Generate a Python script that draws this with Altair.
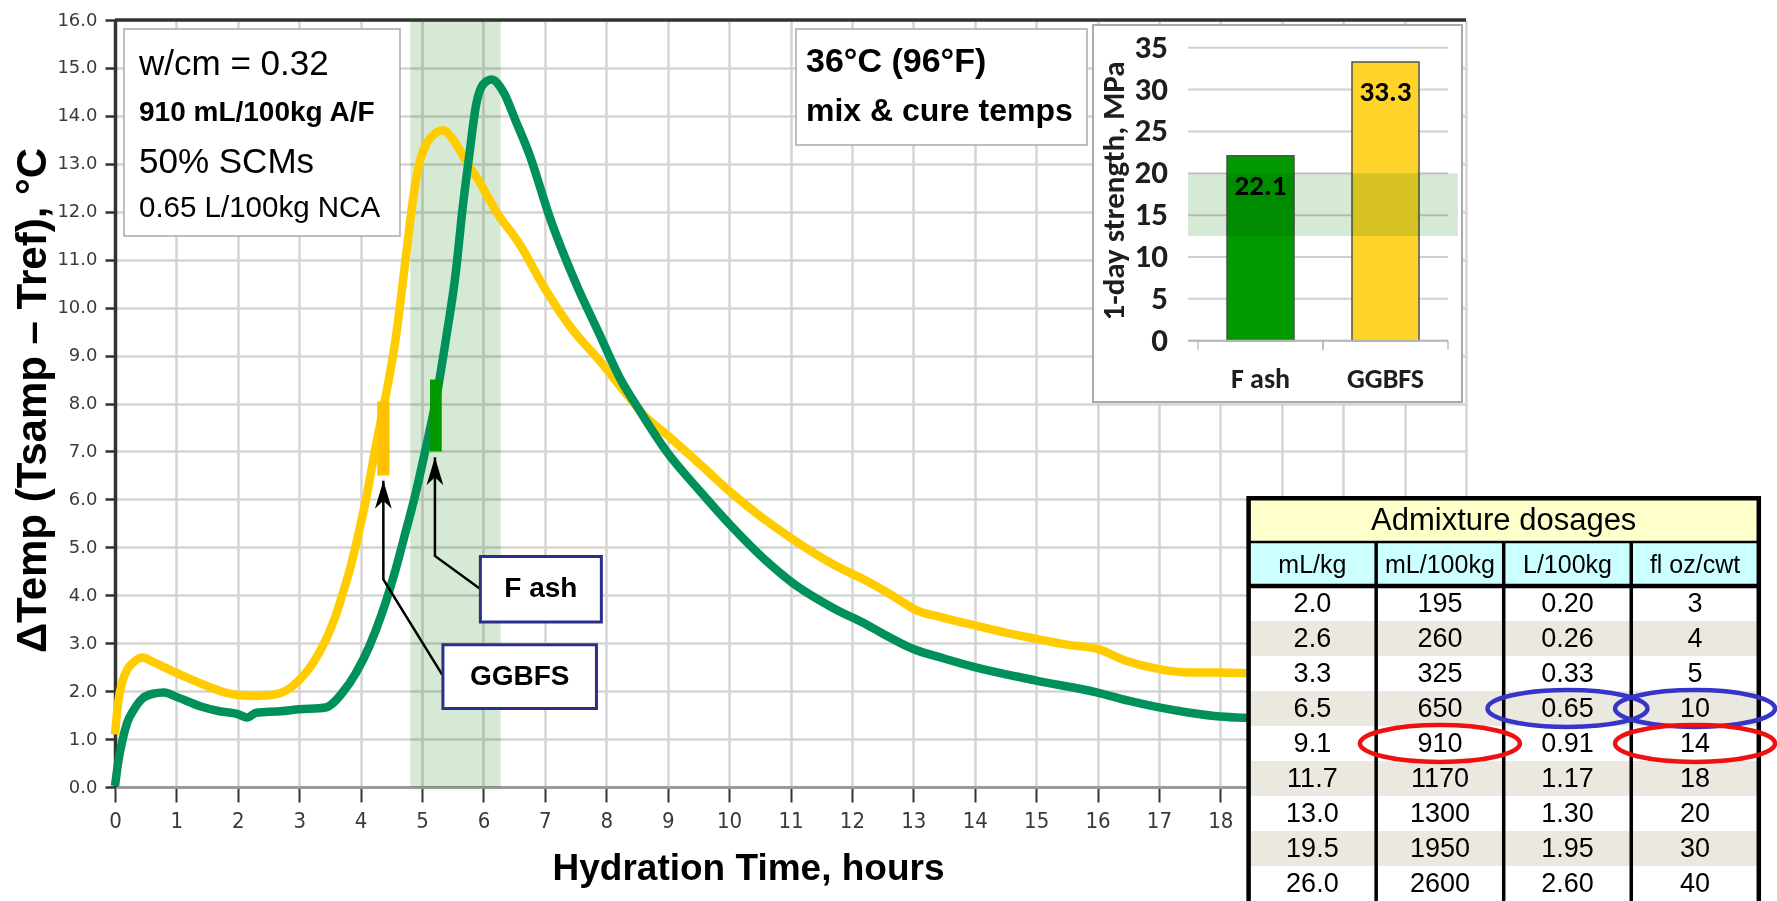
import altair as alt
import pandas as pd

# ---------------------------------------------------------------------------
# Hydration curves: temperature rise above reference vs. hydration time
# ---------------------------------------------------------------------------
hours_ggbfs = [0.0, 0.05, 0.12, 0.2, 0.3, 0.45, 0.6, 0.8, 1.0, 1.25, 1.55, 1.8,
               2.0, 2.3, 2.6, 2.8, 3.0, 3.15, 3.32, 3.45, 3.59, 3.7, 3.81, 3.97,
               4.11, 4.24, 4.38, 4.57, 4.74, 4.84, 4.95, 5.09, 5.2, 5.34, 5.53,
               5.72, 5.93, 6.21, 6.57, 7.01, 7.45, 7.88, 8.32, 8.59, 9.03, 9.52,
               10.06, 10.61, 11.0, 11.7, 12.25, 12.8, 13.0, 13.5, 14.0, 14.5,
               15.0, 15.5, 16.0, 16.45, 17.0, 17.5, 18.0, 18.5, 19.0]
temp_ggbfs = [1.1, 1.75, 2.2, 2.45, 2.6, 2.7, 2.62, 2.5, 2.38, 2.24, 2.08, 1.97,
              1.92, 1.9, 1.93, 2.02, 2.23, 2.45, 2.79, 3.12, 3.56, 4.0, 4.47, 5.31,
              6.15, 7.06, 7.97, 9.35, 11.09, 12.14, 12.98, 13.46, 13.62, 13.7, 13.46,
              13.05, 12.63, 12.0, 11.36, 10.38, 9.54, 8.91, 8.21, 7.79, 7.3, 6.74,
              6.11, 5.55, 5.2, 4.64, 4.29, 3.88, 3.72, 3.53, 3.37, 3.22,
              3.09, 2.97, 2.88, 2.64, 2.46, 2.39, 2.39, 2.37, 2.35]

hours_fash = [0.0, 0.05, 0.12, 0.2, 0.3, 0.45, 0.6, 0.8, 1.0, 1.4, 1.7, 2.0,
              2.15, 2.3, 2.7, 3.0, 3.43, 3.55, 3.7, 3.92, 4.14, 4.35, 4.57, 4.73,
              4.9, 5.06, 5.2, 5.39, 5.55, 5.66, 5.77, 5.88, 5.99, 6.13, 6.32, 6.53,
              6.75, 7.07, 7.5, 7.88, 8.21, 8.54, 8.97, 9.52, 10.06, 10.61, 11.0,
              11.7, 12.25, 12.46, 13.0, 13.5, 14.0, 15.0, 16.0, 16.5, 17.0, 17.5,
              18.0, 18.5, 19.0]
temp_fash = [0.02, 0.5, 0.97, 1.35, 1.6, 1.85, 1.94, 1.97, 1.88, 1.68, 1.58, 1.52,
             1.45, 1.55, 1.58, 1.62, 1.66, 1.75, 1.96, 2.37, 2.93, 3.63, 4.54, 5.31,
             6.15, 7.06, 7.9, 9.35, 10.74, 12.07, 13.19, 14.23, 14.65, 14.76, 14.51, 13.88,
             13.19, 11.92, 10.52, 9.47, 8.56, 7.86, 7.02, 6.18, 5.41, 4.71, 4.29,
             3.73, 3.38, 3.23, 2.88, 2.68, 2.5, 2.22, 1.97, 1.8, 1.66, 1.55,
             1.47, 1.44, 1.42]

# set markers on the rising limb of each curve
marker_mix = ["GGBFS", "F ash"]
marker_t0 = [4.27, 5.13]
marker_t1 = [4.47, 5.32]
marker_lo = [6.5, 7.0]
marker_hi = [8.04, 8.5]

# shaded window on the time axis (hours)
window_hours = [4.81, 6.28]

# call-out boxes and their leader arrows (time, ΔT)
callout_label = ["F ash", "GGBFS"]
callout_t0 = [5.95, 5.34]
callout_t1 = [7.92, 7.84]
callout_lo = [3.44, 1.64]
callout_hi = [4.81, 2.97]
arrow_fash_t = [5.21, 5.21, 5.96]
arrow_fash_v = [6.88, 4.82, 4.12]
arrow_ggbfs_t = [4.37, 4.37, 5.33]
arrow_ggbfs_v = [6.39, 4.33, 2.34]

# inset: 1-day compressive strength
strength_mix = ["F ash", "GGBFS"]
strength_mpa = [22.1, 33.3]
strength_target = [12.5, 20.0]
strength_ticks = [0, 5, 10, 15, 20, 25, 30, 35]

# admixture dosage table
dose_columns = ["mL/kg", "mL/100kg", "L/100kg", "fl oz/cwt"]
dose_ml_kg = ["2.0", "2.6", "3.3", "6.5", "9.1", "11.7", "13.0", "19.5", "26.0"]
dose_ml_100kg = ["195", "260", "325", "650", "910", "1170", "1300", "1950", "2600"]
dose_l_100kg = ["0.20", "0.26", "0.33", "0.65", "0.91", "1.17", "1.30", "1.95", "2.60"]
dose_floz_cwt = ["3", "4", "5", "10", "14", "18", "20", "30", "40"]
# circled cells: (column, row index, colour)
circled = [("L/100kg", 3, "#3535c8"), ("fl oz/cwt", 3, "#3535c8"),
           ("mL/100kg", 4, "#ee1111"), ("fl oz/cwt", 4, "#ee1111")]

# ---------------------------------------------------------------------------
SANS = "Liberation Sans, Arial, sans-serif"
CALI = "Carlito, Lato, sans-serif"

W, H = 1351, 767
XS = alt.Scale(domain=[0, 22], nice=False, zero=False)
YS = alt.Scale(domain=[0, 16], nice=False, zero=False)
one = pd.DataFrame({"k": [0]})


def tx(field, axis=None):
    return alt.X(field, type="quantitative", scale=XS, axis=axis)


def ty(field, axis=None):
    return alt.Y(field, type="quantitative", scale=YS, axis=axis)


x_axis = alt.Axis(
    values=list(range(23)), labelExpr="datum.value <= 18 ? datum.label : ''",
    title="Hydration Time, hours", titleFont=SANS, titleFontSize=37,
    titleFontWeight="bold", titleColor="black", titleX=633, titleY=81,
    titleBaseline="middle", titleAlign="center",
    labelFont="DejaVu Sans Condensed", labelFontSize=22, labelColor="#3a3a3a",
    labelPadding=8, labelFlush=False, labelOverlap=False,
    tickSize=15, tickWidth=2, tickColor="#333333",
    domainColor="#9a9a9a", domainWidth=3,
    grid=True, gridColor="#d4d4d4", gridWidth=2.5)

y_axis = alt.Axis(
    values=list(range(17)), format=".1f",
    title="ΔTemp (Tsamp – Tref), °C", titleFont=SANS, titleFontSize=42,
    titleFontWeight="bold", titleColor="black", titleAngle=270,
    titleX=-83, titleY=380, titleAlign="center", titleBaseline="middle",
    labelFont="DejaVu Sans", labelFontSize=18, labelColor="#3a3a3a",
    labelPadding=8, labelFlush=False, labelOverlap=False,
    tickSize=10, tickWidth=2.5, tickColor="#333333",
    domainColor="#333333", domainWidth=3.5,
    grid=True, gridColor="#d4d4d4", gridWidth=2.5)

layers = []

# shaded window
layers.append(
    alt.Chart(pd.DataFrame({"t0": [window_hours[0]], "t1": [window_hours[1]]}))
    .mark_rect(color="#d6e9d5", blend="multiply")
    .encode(x=tx("t0"), x2="t1", y=alt.value(0), y2=alt.value(H))
)

# plot frame top edge
layers.append(
    alt.Chart(one).mark_rule(color="#333333", strokeWidth=3.5)
    .encode(x=alt.value(0), x2=alt.value(W), y=alt.value(0))
)

# curves
ggbfs_df = pd.DataFrame({"t": hours_ggbfs, "dT": temp_ggbfs})
fash_df = pd.DataFrame({"t": hours_fash, "dT": temp_fash})
layers.append(
    alt.Chart(ggbfs_df).mark_line(color="#ffcc00", strokeWidth=8.5, interpolate="monotone")
    .encode(x=tx("t", x_axis), y=ty("dT", y_axis))
)
layers.append(
    alt.Chart(fash_df).mark_line(color="#00915a", strokeWidth=8.5, interpolate="monotone")
    .encode(x=tx("t"), y=ty("dT"))
)

# markers
marker_df = pd.DataFrame({"mix": marker_mix, "t0": marker_t0, "t1": marker_t1,
                          "lo": marker_lo, "hi": marker_hi})
layers.append(
    alt.Chart(marker_df).mark_rect()
    .encode(x=tx("t0"), x2="t1", y=ty("lo"), y2="hi",
            color=alt.Color("mix:N", legend=None,
                            scale=alt.Scale(domain=["GGBFS", "F ash"],
                                            range=["#ffc000", "#009900"])))
)

# leader arrows
arrow_df = pd.DataFrame({
    "arrow": ["F ash"] * 3 + ["GGBFS"] * 3,
    "i": [0, 1, 2, 0, 1, 2],
    "t": arrow_fash_t + arrow_ggbfs_t,
    "dT": arrow_fash_v + arrow_ggbfs_v,
})
layers.append(
    alt.Chart(arrow_df).mark_line(color="black", strokeWidth=2.5)
    .encode(x=tx("t"), y=ty("dT"), detail="arrow:N", order="i:Q")
)
tips = arrow_df[arrow_df["i"] == 0]
layers.append(
    alt.Chart(tips).mark_point(shape="M -0.3 1 L 0 0 L 0.3 1 L 0 0.72 Z", size=3136,
                               filled=True, color="black", opacity=1)
    .encode(x=tx("t"), y=ty("dT"))
)

# call-out boxes
callout_df = pd.DataFrame({"label": callout_label, "t0": callout_t0, "t1": callout_t1,
                           "lo": callout_lo, "hi": callout_hi})
callout_df["tm"] = (callout_df["t0"] + callout_df["t1"]) / 2
callout_df["vm"] = (callout_df["lo"] + callout_df["hi"]) / 2
layers.append(
    alt.Chart(callout_df).mark_rect(fill="white", stroke="#2b2e8a", strokeWidth=3)
    .encode(x=tx("t0"), x2="t1", y=ty("lo"), y2="hi")
)
layers.append(
    alt.Chart(callout_df).mark_text(font=SANS, fontSize=28, fontWeight="bold", color="black")
    .encode(x=tx("tm"), y=ty("vm"), text="label:N")
)

# mix description box
layers.append(
    alt.Chart(one).mark_rect(fill="white", stroke="#a9a9a9", strokeWidth=1.5)
    .encode(x=alt.value(9), x2=alt.value(285), y=alt.value(9), y2=alt.value(216))
)
mix_lines = [("w/cm = 0.32", 44, 35, "normal"),
             ("910 mL/100kg A/F", 93, 28, "bold"),
             ("50% SCMs", 142, 35, "normal"),
             ("0.65 L/100kg NCA", 188, 29.5, "normal")]
for txt, yy, fs, fw in mix_lines:
    layers.append(
        alt.Chart(pd.DataFrame({"s": [txt]}))
        .mark_text(font=SANS, fontSize=fs, fontWeight=fw, align="left",
                   baseline="middle", color="black")
        .encode(x=alt.value(24), y=alt.value(yy), text="s:N")
    )

# temperature box
layers.append(
    alt.Chart(one).mark_rect(fill="white", stroke="#a9a9a9", strokeWidth=1.5)
    .encode(x=alt.value(681), x2=alt.value(972), y=alt.value(9), y2=alt.value(125))
)
for txt, yy, fs in [("36°C (96°F)", 42, 34), ("mix & cure temps", 91, 32)]:
    layers.append(
        alt.Chart(pd.DataFrame({"s": [txt]}))
        .mark_text(font=SANS, fontSize=fs, fontWeight="bold", align="left",
                   baseline="middle", color="black")
        .encode(x=alt.value(691), y=alt.value(yy), text="s:N")
    )

# ---------------------------------------------------------------------------
# inset bar chart
# ---------------------------------------------------------------------------
IY = alt.Scale(domain=[0, 35], range=[320.7, 27.7], nice=False, zero=True)
IX = alt.Scale(domain=strength_mix, range=[1083, 1333], paddingInner=0, paddingOuter=0)

layers.append(
    alt.Chart(one).mark_rect(fill="white", stroke="#a9a9a9", strokeWidth=2)
    .encode(x=alt.value(978), x2=alt.value(1347), y=alt.value(5), y2=alt.value(382))
)
tick_df = pd.DataFrame({"v": strength_ticks})
layers.append(
    alt.Chart(tick_df).mark_rule(color="#d0d0d0", strokeWidth=2)
    .encode(y=alt.Y("v:Q", scale=IY, axis=None), x=alt.value(1073), x2=alt.value(1333))
)
layers.append(
    alt.Chart(tick_df).mark_text(font=CALI, fontSize=33, fontWeight="bold", align="right",
                                 baseline="middle", color="#1e1e1e")
    .encode(y=alt.Y("v:Q", scale=IY, axis=None), x=alt.value(1053), text="v:Q")
)
strength_df = pd.DataFrame({"mix": strength_mix, "mpa": strength_mpa})
layers.append(
    alt.Chart(strength_df).mark_bar(width=67, stroke="#505050", strokeWidth=1.5)
    .encode(x=alt.X("mix:N", scale=IX, axis=None),
            y=alt.Y("mpa:Q", scale=IY, axis=None),
            color=alt.Color("mix:N", legend=None,
                            scale=alt.Scale(domain=strength_mix, range=["#009900", "#ffd42a"])))
)
layers.append(
    alt.Chart(pd.DataFrame({"lo": [strength_target[0]], "hi": [strength_target[1]]}))
    .mark_rect(color="#d6e9d5", blend="multiply")
    .encode(y=alt.Y("lo:Q", scale=IY, axis=None), y2="hi",
            x=alt.value(1073), x2=alt.value(1343))
)
layers.append(
    alt.Chart(strength_df).mark_text(font=CALI, fontSize=29, fontWeight="bold",
                                     baseline="middle", dy=30, color="black")
    .encode(x=alt.X("mix:N", scale=IX, axis=None),
            y=alt.Y("mpa:Q", scale=IY, axis=None), text=alt.Text("mpa:Q", format=".1f"))
)
# category axis line, ticks and labels
layers.append(
    alt.Chart(pd.DataFrame({"v": [0]})).mark_rule(color="#b8b8b8", strokeWidth=2)
    .encode(y=alt.Y("v:Q", scale=IY, axis=None), x=alt.value(1073), x2=alt.value(1333))
)
layers.append(
    alt.Chart(pd.DataFrame({"mix": strength_mix})).mark_tick(
        orient="vertical", size=9, thickness=2, color="#b8b8b8", yOffset=4.5)
    .encode(x=alt.X("mix:N", scale=IX, axis=None, bandPosition=0), y=alt.value(320.7))
)
layers.append(
    alt.Chart(pd.DataFrame({"mix": strength_mix})).mark_tick(
        orient="vertical", size=9, thickness=2, color="#b8b8b8", yOffset=4.5)
    .encode(x=alt.X("mix:N", scale=IX, axis=None, bandPosition=1), y=alt.value(320.7))
)
layers.append(
    alt.Chart(pd.DataFrame({"mix": strength_mix})).mark_text(
        font=CALI, fontSize=28, fontWeight="bold", baseline="middle", color="#1e1e1e")
    .encode(x=alt.X("mix:N", scale=IX, axis=None), y=alt.value(360), text="mix:N")
)
layers.append(
    alt.Chart(pd.DataFrame({"s": ["1-day strength, MPa"]})).mark_text(
        font=CALI, fontSize=31, fontWeight="bold", angle=270, baseline="middle",
        color="#1e1e1e")
    .encode(x=alt.value(1000), y=alt.value(171), text="s:N")
)

# ---------------------------------------------------------------------------
# dosage table
# ---------------------------------------------------------------------------
TL, TR = 1133.6, 1643.8
T_TOP, T_HEAD, T_BODY, T_BOT = 478.3, 522, 566, 881
rows = list(range(len(dose_ml_kg)))
TX = alt.Scale(domain=dose_columns, range=[TL, TR], paddingInner=0, paddingOuter=0)
TY = alt.Scale(domain=rows, range=[T_BODY, T_BOT], paddingInner=0, paddingOuter=0)

cells = []
for col, vals in zip(dose_columns, [dose_ml_kg, dose_ml_100kg, dose_l_100kg, dose_floz_cwt]):
    for r, v in zip(rows, vals):
        cells.append({"col": col, "row": r, "txt": v,
                      "fill": "#ebe8df" if r % 2 == 1 else "#ffffff"})
cell_df = pd.DataFrame(cells)
col_df = pd.DataFrame({"col": dose_columns})

layers.append(
    alt.Chart(one).mark_rect(fill="#ffffcc")
    .encode(x=alt.value(TL), x2=alt.value(TR), y=alt.value(T_TOP), y2=alt.value(T_HEAD))
)
layers.append(
    alt.Chart(col_df).mark_rect(fill="#ccffff")
    .encode(x=alt.X("col:N", scale=TX, axis=None), y=alt.value(T_HEAD), y2=alt.value(T_BODY))
)
layers.append(
    alt.Chart(cell_df).mark_rect()
    .encode(x=alt.X("col:N", scale=TX, axis=None), y=alt.Y("row:O", scale=TY, axis=None),
            color=alt.Color("fill:N", scale=None))
)
layers.append(
    alt.Chart(pd.DataFrame({"s": ["Admixture dosages"]})).mark_text(
        font=SANS, fontSize=31, baseline="middle", color="black")
    .encode(x=alt.value((TL + TR) / 2), y=alt.value(501), text="s:N")
)
layers.append(
    alt.Chart(col_df).mark_text(font=SANS, fontSize=25, baseline="middle", color="black")
    .encode(x=alt.X("col:N", scale=TX, axis=None), y=alt.value(545), text="col:N")
)
layers.append(
    alt.Chart(cell_df).mark_text(font=SANS, fontSize=27, baseline="middle", color="black")
    .encode(x=alt.X("col:N", scale=TX, axis=None), y=alt.Y("row:O", scale=TY, axis=None),
            text="txt:N")
)
# grid lines of the table
layers.append(
    alt.Chart(pd.DataFrame({"col": dose_columns[1:]})).mark_rule(color="black", strokeWidth=3.5)
    .encode(x=alt.X("col:N", scale=TX, axis=None, bandPosition=0),
            y=alt.value(T_HEAD), y2=alt.value(T_BOT + 20))
)
layers.append(
    alt.Chart(one).mark_rule(color="black", strokeWidth=4.5)
    .encode(x=alt.value(TL), x2=alt.value(TR), y=alt.value(T_BODY))
)
layers.append(
    alt.Chart(one).mark_rule(color="black", strokeWidth=2.5)
    .encode(x=alt.value(TL), x2=alt.value(TR), y=alt.value(T_HEAD))
)
layers.append(
    alt.Chart(one).mark_rect(fill="transparent", stroke="black", strokeWidth=4.5)
    .encode(x=alt.value(TL), x2=alt.value(TR), y=alt.value(T_TOP), y2=alt.value(T_BOT + 20))
)
# circled dosages
circ_df = pd.DataFrame(circled, columns=["col", "row", "ring"])
layers.append(
    alt.Chart(circ_df).mark_point(
        shape="M -1 0 A 1 0.23 0 1 1 1 0 A 1 0.23 0 1 1 -1 0 Z",
        size=25600, filled=False, strokeWidth=4.5, opacity=1, dx=-4, dy=-3)
    .encode(x=alt.X("col:N", scale=TX, axis=None), y=alt.Y("row:O", scale=TY, axis=None),
            color=alt.Color("ring:N", scale=None))
)

chart = (
    alt.layer(*layers)
    .resolve_scale(x="independent", y="independent", color="independent")
    .properties(width=W, height=H,
                padding={"left": 115, "top": 20, "right": 311, "bottom": 114},
                autosize=alt.AutoSizeParams(type="none"), background="white")
    .configure_view(stroke=None)
)

chart.save("out.html", embed_options={"renderer": "svg", "actions": False})
